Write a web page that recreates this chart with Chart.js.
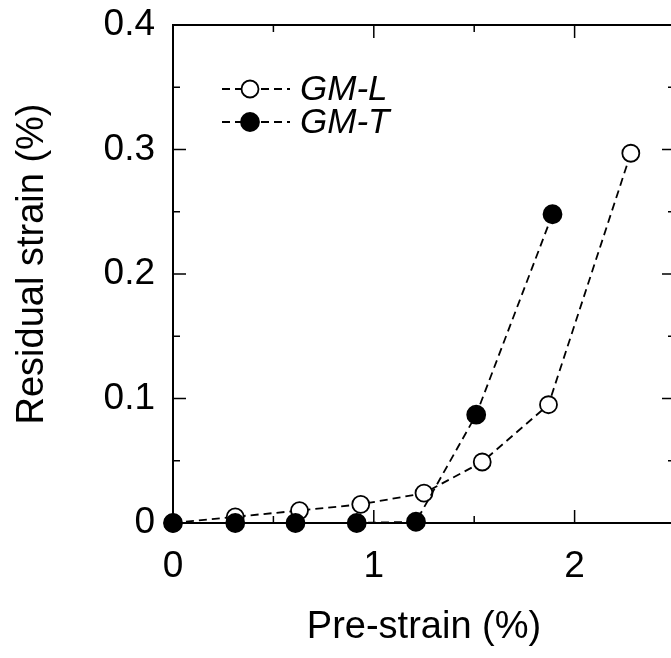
<!DOCTYPE html>
<html>
<head>
<meta charset="utf-8">
<script src="https://cdn.jsdelivr.net/npm/chart.js@4"></script>
<style>
  html, body { margin: 0; padding: 0; background: #fff; overflow: hidden; }
  #wrap { position: relative; width: 690px; height: 658px; }
</style>
</head>
<body>
<div id="wrap"><canvas id="chart" width="690" height="658"></canvas></div>
<script>
// data
const preStrainL = [0, 0.31, 0.63, 0.935, 1.25, 1.54, 1.87, 2.28];
const residualL = [0, 0.005, 0.01, 0.015, 0.024, 0.049, 0.095, 0.297];
const preStrainT = [0, 0.31, 0.61, 0.915, 1.21, 1.51, 1.89];
const residualT = [0, 0, 0, 0, 0.001, 0.087, 0.248];
const xTicks = [0, 1, 2];
const yTicks = [0, 0.1, 0.2, 0.3, 0.4];
const seriesNames = ['GM-L', 'GM-T'];
const yTitle = 'Residual strain (%)';

const FONT = '"Liberation Sans", Arial, sans-serif';
const dash = [8, 5];

const toPoints = (xs, ys) => xs.map((x, i) => ({ x: x, y: ys[i] }));

// frame, inward ticks, y title and legend
const framePlugin = {
	id: 'frame',
	afterDatasetsDraw(chart) {
		const { ctx, chartArea: a, scales } = chart;
		const xs = scales.x, ys = scales.y;
		ctx.save();
		ctx.strokeStyle = '#000';
		ctx.lineWidth = 2;
		ctx.setLineDash([]);
		ctx.strokeRect(a.left, a.top, a.right - a.left, a.bottom - a.top);
		ctx.lineWidth = 1.5;
		ctx.beginPath();
		for (let v = 0; v <= 2.5001; v += 0.5) {
			const p = xs.getPixelForValue(v);
			const len = Math.abs(v - Math.round(v)) < 1e-6 ? 13 : 7;
			ctx.moveTo(p, a.bottom); ctx.lineTo(p, a.bottom - len);
			ctx.moveTo(p, a.top); ctx.lineTo(p, a.top + len);
		}
		for (let v = 0; v <= 0.4001; v += 0.05) {
			const p = ys.getPixelForValue(v);
			const major = Math.abs(v * 10 - Math.round(v * 10)) < 1e-6;
			const len = major ? 13 : 7;
			ctx.moveTo(a.left, p); ctx.lineTo(a.left + len, p);
			ctx.moveTo(a.right, p); ctx.lineTo(a.right - len, p);
		}
		ctx.stroke();

		// y title, sitting a little above the axis middle as in the figure
		ctx.fillStyle = '#000';
		ctx.font = '38px ' + FONT;
		ctx.textAlign = 'center';
		ctx.textBaseline = 'middle';
		ctx.translate(33, ys.getPixelForValue(0.2) - 10);
		ctx.rotate(-Math.PI / 2);
		ctx.fillText(yTitle, 0, 0);
		ctx.setTransform(1, 0, 0, 1, 0, 0);

		// legend inside the plot
		const rows = [89, 122];
		chart.data.datasets.forEach((ds, i) => {
			const y = rows[i];
			ctx.lineWidth = ds.borderWidth;
			ctx.setLineDash(dash);
			ctx.beginPath();
			ctx.moveTo(222, y); ctx.lineTo(290, y);
			ctx.stroke();
			ctx.setLineDash([]);
			ctx.beginPath();
			ctx.arc(250, y, ds.pointRadius, 0, Math.PI * 2);
			ctx.fillStyle = ds.pointBackgroundColor;
			ctx.fill();
			ctx.lineWidth = ds.pointBorderWidth;
			ctx.stroke();
			ctx.fillStyle = '#000';
			ctx.font = 'italic 35px ' + FONT;
			ctx.textBaseline = 'middle';
			ctx.textAlign = 'left';
			ctx.fillText(ds.label, 300, y + 1);
		});
		ctx.restore();
	}
};

const ctx = document.getElementById('chart').getContext('2d');
new Chart(ctx, {
	type: 'scatter',
	data: {
		datasets: [{
			label: seriesNames[0],
			data: toPoints(preStrainL, residualL),
			showLine: true,
			borderColor: '#000',
			borderWidth: 1.8,
			borderDash: dash,
			pointRadius: 8.5,
			pointBorderWidth: 1.8,
			pointBackgroundColor: '#fff',
			pointBorderColor: '#000',
			order: 1,
			clip: false
		}, {
			label: seriesNames[1],
			data: toPoints(preStrainT, residualT),
			showLine: true,
			borderColor: '#000',
			borderWidth: 1.8,
			borderDash: dash,
			pointRadius: 9,
			pointBorderWidth: 1.8,
			pointBackgroundColor: '#000',
			pointBorderColor: '#000',
			order: 0,
			clip: false
		}]
	},
	options: {
		responsive: false,
		animation: false,
		devicePixelRatio: 1,
		layout: { padding: { top: 25, right: 15, left: 0, bottom: 0 } },
		plugins: { legend: { display: false }, tooltip: { enabled: false } },
		scales: {
			x: {
				type: 'linear',
				min: 0, max: 2.5,
				grid: { display: false, drawTicks: false },
				border: { display: false },
				afterBuildTicks: (s) => { s.ticks = xTicks.map(v => ({ value: v })); },
				afterFit: (s) => { s.height = 135; s.paddingLeft = 0; s.paddingRight = 0; },
				ticks: {
					color: '#000',
					padding: 22,
					font: { family: FONT, size: 37 },
					callback: (v) => String(v)
				},
				title: {
					display: true,
					text: 'Pre-strain (%)',
					color: '#000',
					font: { family: FONT, size: 38 },
					padding: { top: 0, bottom: 8 }
				}
			},
			y: {
				type: 'linear',
				min: 0, max: 0.4,
				grid: { display: false, drawTicks: false },
				border: { display: false },
				afterBuildTicks: (s) => { s.ticks = yTicks.map(v => ({ value: v })); },
				afterFit: (s) => { s.width = 173; s.paddingTop = 0; s.paddingBottom = 0; },
				ticks: {
					color: '#000',
					padding: 18,
					font: { family: FONT, size: 37 },
					callback: (v) => v === 0 ? '0' : v.toFixed(1)
				}
			}
		}
	},
	plugins: [framePlugin]
});
</script>
</body>
</html>
